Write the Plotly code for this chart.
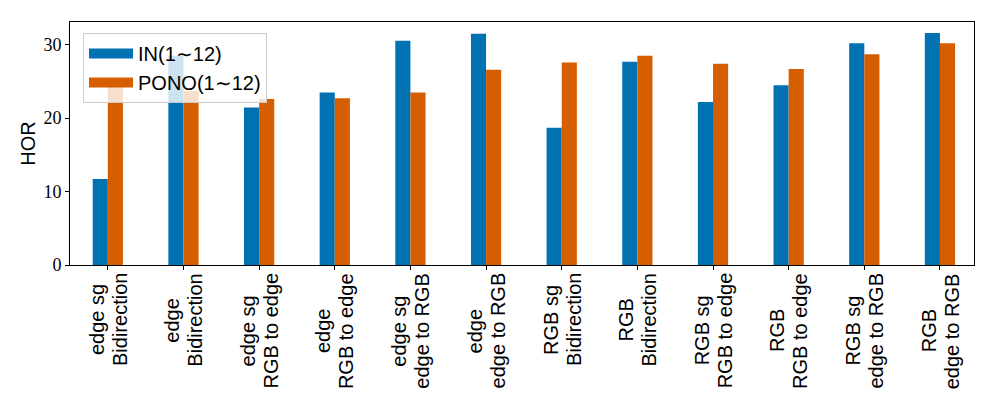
import plotly.graph_objects as go

label_top = ["edge sg", "edge", "edge sg", "edge", "edge sg", "edge",
             "RGB sg", "RGB", "RGB sg", "RGB", "RGB sg", "RGB"]
label_bottom = ["Bidirection", "Bidirection", "RGB to edge", "RGB to edge",
                "edge to RGB", "edge to RGB", "Bidirection", "Bidirection",
                "RGB to edge", "RGB to edge", "edge to RGB", "edge to RGB"]
in_values = [11.7, 28.5, 21.45, 23.5, 30.55, 31.5, 18.7, 27.7, 22.2, 24.5, 30.2, 31.6]
pono_values = [24.4, 23.7, 22.6, 22.7, 23.5, 26.6, 27.6, 28.5, 27.4, 26.7, 28.7, 30.2]
series_names = ["IN(1∼12)", "PONO(1∼12)"]
series_colors = ["#0072B2", "#D55E00"]
y_ticks = [0, 10, 20, 30]

x = list(range(len(label_top)))
SANS = "Liberation Sans, Arial, sans-serif"
FS = 20

# Arial/Liberation Sans advance widths (per 1000 em) to centre label lines
ADV = {"a": 556, "b": 556, "c": 500, "d": 556, "e": 556, "g": 556, "i": 222,
       "n": 556, "o": 556, "r": 333, "s": 500, "t": 278, " ": 278,
       "B": 667, "G": 778, "R": 722}


def text_len(s):
    return sum(ADV.get(ch, 556) for ch in s) * FS / 1000.0


fig = go.Figure()
for vals, name, col in zip([in_values, pono_values], series_names, series_colors):
    fig.add_trace(go.Bar(x=x, y=vals, name=name, showlegend=False,
                         marker=dict(color=col, line=dict(width=0))))
    # legend entry with a wide swatch
    fig.add_trace(go.Scatter(x=[None], y=[None], mode="lines", name=name,
                             line=dict(color=col, width=13)))

for xi, l1, l2 in zip(x, label_top, label_bottom):
    lmax = max(text_len(l1), text_len(l2))
    ys = -(8 + lmax / 2.0)
    for line, xs in ((l1, -11.5), (l2, 11.5)):
        fig.add_annotation(x=xi, xref="x", y=0, yref="paper",
                           xanchor="center", yanchor="middle",
                           xshift=xs, yshift=ys, text=line, textangle=-90,
                           showarrow=False,
                           font=dict(size=FS, family=SANS, color="black"))

# page body adds an 8px offset, so the figure is sized to fit the window
fig.update_layout(
    width=989, height=407,
    margin=dict(l=62, r=23, t=14, b=150),
    paper_bgcolor="white", plot_bgcolor="white",
    barmode="group", bargap=0.6, bargroupgap=0,
    font=dict(family=SANS, color="black"),
    showlegend=True,
    legend=dict(
        x=0.0144, y=0.955, xanchor="left", yanchor="top",
        bgcolor="rgba(255,255,255,0.8)", bordercolor="#cccccc", borderwidth=1,
        font=dict(size=20, family=SANS),
        itemwidth=44, tracegroupgap=0,
    ),
)
fig.update_xaxes(
    tickmode="array", tickvals=x, showticklabels=False, automargin=False,
    range=[-0.5, 11.45],
    showline=True, linecolor="black", linewidth=1, mirror=True,
    ticks="outside", ticklen=4, tickcolor="black",
    showgrid=False, zeroline=False,
)
fig.update_yaxes(
    range=[0, 33.1], tickmode="array", tickvals=y_ticks, automargin=False,
    showline=True, linecolor="black", linewidth=1, mirror=True,
    ticks="outside", ticklen=4, tickcolor="black",
    tickfont=dict(size=18, family="Liberation Serif, DejaVu Serif, serif"),
    title=dict(text="HOR", font=dict(size=20, family=SANS), standoff=2),
    showgrid=False, zeroline=False,
)

fig.write_html("out.html")
